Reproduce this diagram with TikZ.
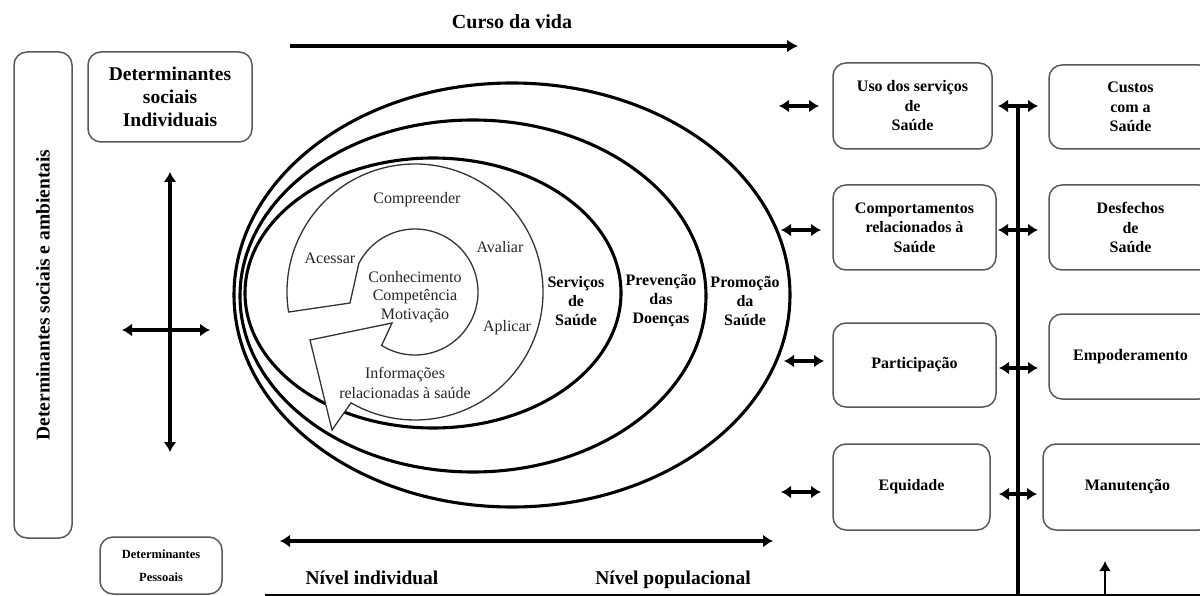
\documentclass[tikz,border=0pt]{standalone}
\usepackage{fontspec}
\setmainfont{Liberation Serif}
\usetikzlibrary{arrows.meta}
\begin{document}
\begin{tikzpicture}[x=1pt,y=1pt,
 box/.style={draw=black!65, line width=1.5pt, rounded corners=13pt, align=center, inner sep=2pt, font=\bfseries\fontsize{16}{19.5}\selectfont},
 dbl/.style={line width=3.6pt, {Latex[length=10pt,width=13pt]}-{Latex[length=10pt,width=13pt]}},
 onehead/.style={line width=3.4pt, -{Latex[length=11pt,width=13pt]}},
 ring/.style={line width=3.1pt},
 ringlbl/.style={font=\bfseries\fontsize{16}{19}\selectfont, align=center},
 sptext/.style={font=\fontsize{16}{19}\selectfont, align=center, text=black!85},
 big/.style={font=\bfseries\fontsize{20}{23}\selectfont, align=center}
]
\clip (0,0) rectangle (1200,-596);
\fill[white] (0,0) rectangle (1200,-596);

% ---------- left column ----------
\node[box, rotate=90, minimum width=486pt, minimum height=58pt, font=\bfseries\fontsize{19.5}{22}\selectfont] (amb) at (43,-295) {Determinantes sociais e ambientais};
\node[box, font=\bfseries\fontsize{19.5}{23}\selectfont, minimum width=164pt, minimum height=90pt] (dsi) at (170,-97) {Determinantes\\sociais\\Individuais};
\node[box, font=\bfseries\fontsize{12.5}{23}\selectfont, minimum width=122pt, minimum height=57pt] (dp) at (161,-565.5) {Determinantes\\Pessoais};

\coordinate (vt) at (170,-172);
\coordinate (vb) at (170,-452);
\coordinate (hl) at (122,-330);
\coordinate (hr) at (210,-330);
\draw[dbl] (vt) -- (vb);
\draw[dbl] (hl) -- (hr);

% ---------- top ----------
\node[big] (curso) at (512,-22) {Curso da vida};
\coordinate (cva) at (290,-46);
\coordinate (cvb) at (798,-46);
\draw[onehead] (cva) -- (cvb);

% ---------- ellipses ----------
\coordinate (e1) at (512,-295);
\coordinate (e2) at (473,-296);
\coordinate (e3) at (433,-293);
\draw[ring] (e1) ellipse [x radius=278, y radius=212];
\draw[ring] (e2) ellipse [x radius=233, y radius=176];
\draw[ring] (e3) ellipse [x radius=188, y radius=135];

\node[ringlbl] (serv) at (576,-301) {Serviços\\de\\Saúde};
\node[ringlbl] (prev) at (661,-301) {Prevenção\\das\\Doenças};
\node[ringlbl] (prom) at (745,-301) {Promoção\\da\\Saúde};

% ---------- spiral ----------
\coordinate (O) at (415,-292);
\draw[fill=white, draw=black!80, line width=1.3pt, line join=miter]
  (O) ++(189:128) arc[start angle=189, end angle=-120, radius=128]
  -- (332,-430) -- (310,-340) -- (392,-323)
  -- ([shift={(238:63)}]O) arc[start angle=238, end angle=513, radius=63]
  -- (350,-303) -- cycle;

\node[sptext] (compr) at (417,-200) {Compreender};
\node[sptext] (aces) at (330,-258) {Acessar};
\node[sptext] (aval) at (500,-247) {Avaliar};
\node[sptext] (apli) at (507,-328) {Aplicar};
\node[sptext, font=\fontsize{16}{18.5}\selectfont] (core) at (415,-297) {Conhecimento\\Competência\\Motivação};
\node[sptext, font=\fontsize{16}{20}\selectfont] (info) at (405,-383) {Informações\\relacionadas à saúde};

% ---------- bottom ----------
\coordinate (nla) at (280,-541);
\coordinate (nlb) at (773,-541);
\draw[dbl] (nla) -- (nlb);
\node[big, anchor=base, font=\bfseries\fontsize{19.5}{22}\selectfont] (nind) at (372,-584) {Nível individual};
\node[big, anchor=base, font=\bfseries\fontsize{19.5}{22}\selectfont] (npop) at (673,-584) {Nível populacional};

\coordinate (bl) at (265,-595);
\coordinate (br) at (1200,-595);
\draw[line width=2.4pt] (bl) -- (br);

% ---------- right boxes ----------
\node[box, minimum width=159pt, minimum height=86pt] (uso) at (912.5,-106) {Uso dos serviços\\de\\Saúde};
\node[box, minimum width=163pt, minimum height=85pt] (comp) at (914.5,-227.5) {Comportamentos\\relacionados à\\Saúde};
\node[box, minimum width=163pt, minimum height=84pt] (part) at (914.5,-365) {Participação};
\node[box, minimum width=157pt, minimum height=86pt] (equi) at (911.5,-487) {Equidade};

\node[box, minimum width=163pt, minimum height=84pt] (cust) at (1130.5,-107) {Custos\\com a\\Saúde};
\node[box, minimum width=163pt, minimum height=85pt] (desf) at (1130.5,-227.5) {Desfechos\\de\\Saúde};
\node[box, minimum width=163pt, minimum height=85pt] (empo) at (1130.5,-356.5) {Empoderamento};
\node[box, minimum width=169pt, minimum height=86pt] (manu) at (1127.5,-487) {Manutenção};

% arrows left of first column
\draw[dbl] (779,-106) -- (819,-106);
\draw[dbl] (781,-230) -- (821,-230);
\draw[dbl] (784,-361) -- (824,-361);
\draw[dbl] (781,-492) -- (821,-492);

% vertical line and crossing arrows
\coordinate (vlt) at (1018,-106);
\coordinate (vlb) at (1018,-596);
\draw[line width=3.4pt] (vlt) -- (vlb);
\draw[dbl] (998,-106) -- (1038,-106);
\draw[dbl] (998,-230) -- (1038,-230);
\draw[dbl] (999,-368) -- (1038,-368);
\draw[dbl] (999,-494) -- (1037,-494);

\coordinate (ua) at (1105,-596);
\coordinate (ub) at (1105,-561);
\draw[line width=2.8pt, -{Latex[length=10pt,width=12pt]}] (ua) -- (ub);
\end{tikzpicture}
\end{document}
